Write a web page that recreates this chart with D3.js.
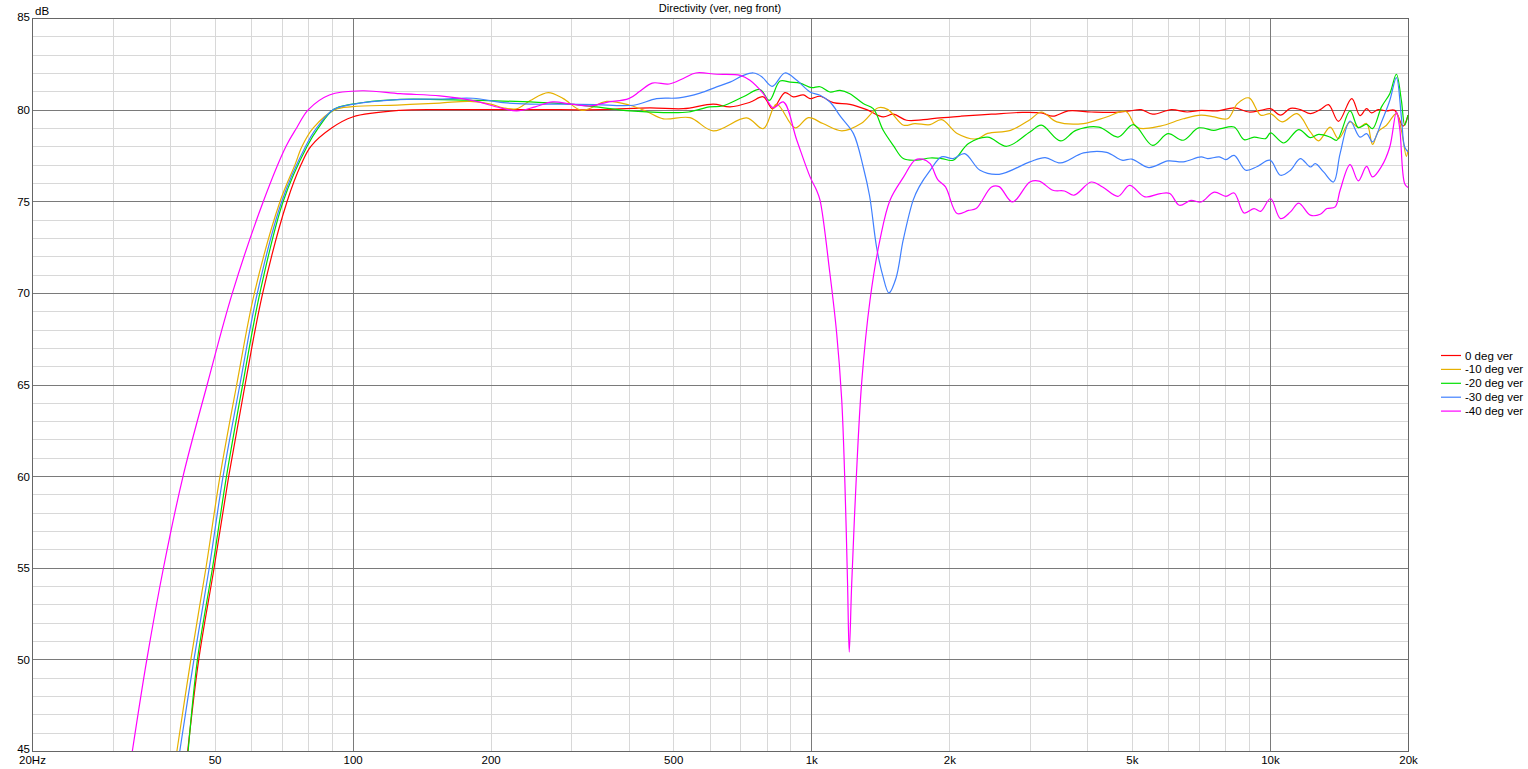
<!DOCTYPE html>
<html><head><meta charset="utf-8">
<script src="https://cdn.jsdelivr.net/npm/d3@7"></script>
<style>
body{margin:0;background:#fff}
svg{display:block}
text{font-family:"Liberation Sans",Arial,sans-serif;fill:#000}
</style>
</head><body>
<svg id="chart" width="1528" height="769"></svg>
<script>
const chartTitle = "Directivity (ver, neg front)";
const yUnit = "dB";
const seriesNames = ["0 deg ver","-10 deg ver","-20 deg ver","-30 deg ver","-40 deg ver"];
const seriesColors = ["#ff0000","#e6b000","#00e000","#4080ff","#ff00ff"];
const xTickValues = [20,50,100,200,500,1000,2000,5000,10000,20000];
const xTickLabels = ["20Hz","50","100","200","500","1k","2k","5k","10k","20k"];
const yTickValues = [45,50,55,60,65,70,75,80,85];

// [frequency Hz, level dB]
const deg0 = [[43.7,45],[46.2,50],[49.9,55],[53.7,60],[58.3,65],[63.7,70],[72,75],[77.2,77],[81.1,78],[90,79],[100,79.6],[127,79.96],[160,80],[250,80],[350,80],[445,80.1],[526,80.05],[611,80.3],[665,80.15],[735,80.4],[786,80.7],[824,80.05],[876,80.93],[914,80.7],[961,80.8],[994,80.6],[1045,80.73],[1117,80.38],[1214,80.29],[1321,80.0],[1435,79.6],[1509,79.75],[1614,79.42],[1754,79.45],[1908,79.55],[2119,79.64],[2472,79.75],[2884,79.85],[3174,79.82],[3363,79.64],[3633,79.93],[4077,79.87],[4577,79.85],[4943,79.93],[5240,80.0],[5548,79.75],[6100,80.0],[6600,79.87],[7078,79.96],[7689,79.93],[8356,80.1],[9005,79.87],[9546,79.96],[10033,80.05],[10546,79.7],[11086,80.07],[11652,80.0],[12248,79.78],[12874,80.0],[13419,80.27],[14107,79.36],[15077,80.6],[15718,79.67],[16245,80.05],[16655,79.82],[17222,80.0],[17953,79.93],[18715,79.96],[19506,79.1],[20000,79.7]];
const deg10 = [[41.4,45],[44.4,50],[47.9,55],[51.4,60],[55.9,65],[61.1,70],[69.5,75],[74.9,77],[77.6,78],[82.1,79],[91.6,80],[100,80.16],[125,80.25],[155,80.36],[180,80.45],[200,80.3],[213,80.1],[228,80.05],[244,80.5],[267,80.93],[288,80.6],[316,79.96],[358,80.45],[402,80.24],[438,79.9],[476,79.5],[544,79.56],[611,78.84],[723,79.55],[786,78.96],[840,80.3],[922,79.0],[986,79.56],[1060,79.24],[1166,78.84],[1284,79.24],[1400,80.1],[1470,80.0],[1590,79.15],[1682,79.24],[1816,79.18],[1924,79.45],[2080,78.7],[2288,78.4],[2424,78.7],[2720,78.87],[2997,79.45],[3174,79.87],[3430,79.33],[3923,79.24],[4404,79.6],[4850,79.9],[5137,79.02],[5767,79.1],[6471,79.5],[7078,79.7],[7562,79.6],[8084,79.5],[8497,80.33],[9005,80.64],[9546,79.7],[10033,79.78],[10634,79.33],[11461,79.78],[12248,78.78],[12766,78.3],[13530,79.05],[14107,78.42],[14952,79.33],[15586,79.02],[16245,79.24],[16740,78.1],[17222,78.8],[17953,79.15],[18867,79.78],[19346,78.87],[19834,77.45],[20000,77.8]];
const deg20 = [[43.8,45],[45.9,50],[49.5,55],[53.1,60],[57.6,65],[62.8,70],[70.6,75],[79.6,78],[84.2,79],[90.8,80],[100,80.3],[125,80.55],[155,80.55],[190,80.5],[244,80.42],[288,80.33],[340,80.15],[402,79.93],[476,79.84],[540,79.87],[600,80.15],[640,80.2],[711,80.7],[773,81.1],[810,80.5],[855,81.56],[900,81.5],[945,81.45],[1000,81.2],[1045,81.25],[1098,80.96],[1155,81.05],[1214,80.87],[1298,80.33],[1365,80.05],[1435,78.87],[1509,78.05],[1587,77.33],[1697,77.24],[1816,77.36],[1924,77.33],[2039,77.24],[2202,78.15],[2424,78.5],[2669,78.0],[2997,78.78],[3174,79.15],[3495,78.29],[3775,78.87],[4238,79.05],[4665,78.5],[5038,79.18],[5548,78.05],[5993,78.69],[6471,78.33],[6990,79.0],[7549,78.87],[7818,78.96],[8356,79.05],[8784,78.36],[9235,78.5],[9786,78.42],[10033,78.73],[10723,78.18],[11555,78.91],[12248,78.47],[12766,78.65],[13530,78.5],[13990,78.33],[14952,79.93],[15586,79.02],[16245,79.2],[16740,78.96],[17510,80.15],[18251,80.87],[18867,81.93],[19346,80.5],[19669,79.15],[20000,79.7]];
const deg30 = [[42.0,45],[45.1,50],[48.7,55],[52.2,60],[56.8,65],[62.0,70],[70.1,75],[79.0,78],[83.5,79],[90.8,80],[100,80.29],[125,80.55],[155,80.58],[183,80.62],[213,80.38],[244,80.3],[290,80.3],[340,80.27],[410,80.24],[460,80.6],[515,80.64],[572,80.9],[622,81.24],[665,81.5],[711,81.87],[748,82.0],[780,81.8],[822,81.27],[876,82.0],[930,81.6],[994,80.96],[1045,80.78],[1100,80.4],[1160,79.6],[1236,78.69],[1300,76.8],[1340,75.3],[1388,72.5],[1430,71.0],[1477,70.0],[1530,70.8],[1587,72.9],[1668,75.06],[1720,75.8],[1816,76.69],[1924,77.42],[2039,77.33],[2160,77.6],[2333,76.69],[2568,76.47],[2997,77.15],[3236,77.38],[3495,77.09],[3923,77.64],[4404,77.67],[4757,77.24],[5000,77.3],[5445,76.84],[5993,77.2],[6471,77.15],[7078,77.42],[7316,77.33],[7754,77.42],[8017,77.27],[8356,77.5],[8857,76.69],[9388,76.9],[10000,77.24],[10546,76.42],[11086,76.69],[11652,77.33],[12248,76.87],[12559,77.05],[13091,76.6],[13758,76.05],[14223,77.6],[14952,79.38],[15718,78.5],[16245,78.69],[16740,78.24],[17510,79.33],[18251,80.5],[18867,81.75],[19346,79.6],[19669,77.96],[20000,77.7]];
const deg40 = [[33.1,45],[35.6,50],[38.7,55],[42.7,60],[48.2,65],[54.7,70],[63.9,75],[71.6,78],[75.5,79],[80.1,80],[89,80.8],[105,81.03],[127,80.87],[155,80.75],[182,80.5],[210,80.1],[228,79.93],[250,80.15],[273,80.42],[300,80.3],[330,80.2],[358,80.4],[400,80.6],[423,81.0],[450,81.45],[490,81.4],[526,81.7],[560,82.0],[622,81.93],[700,81.87],[735,81.6],[786,80.87],[826,80.1],[869,80.42],[930,78.33],[994,76.33],[1027,75.6],[1045,75.06],[1098,71.07],[1136,67.8],[1165,64.2],[1184,59.6],[1200,54.1],[1210,50.4],[1225,54.1],[1252,59.6],[1288,65.1],[1343,69.6],[1412,72.9],[1485,75.06],[1590,76.33],[1682,77.24],[1748,77.3],[1816,77.05],[1887,76.18],[1962,75.78],[2080,74.33],[2202,74.5],[2288,74.6],[2472,75.78],[2568,75.8],[2747,74.96],[2997,76.05],[3140,76.1],[3363,75.6],[3565,75.56],[3740,75.33],[4077,76.05],[4317,75.78],[4665,75.27],[4943,75.87],[5339,75.24],[5767,75.42],[6050,75.42],[6348,74.78],[6726,75.05],[7078,74.96],[7562,75.5],[8017,75.27],[8356,75.45],[8784,74.36],[9235,74.6],[9546,74.45],[10033,75.15],[10546,74.05],[11086,74.42],[11556,74.9],[12248,74.24],[12874,74.29],[13310,74.6],[13875,74.69],[14223,75.6],[14952,77.0],[15586,76.11],[16245,76.9],[16740,76.33],[17510,76.9],[18251,77.96],[18867,79.87],[19187,78.96],[19669,75.96],[20000,75.75]];
const seriesData = [deg0, deg10, deg20, deg30, deg40];

const L = 32, R = 1408, T = 18, B = 751;
const svg = d3.select("#chart");
const x = d3.scaleLog().domain([20, 20000]).range([L, R]);
const y = d3.scaleLinear().domain([45, 85]).range([B, T]);

// grid
const minorX = [];
[10,100,1000,10000].forEach(d => { for (let k = 2; k <= 9; k++) { const v = d*k; if (v > 20 && v < 20000) minorX.push(v); } });
const majorX = [100, 1000, 10000];
const minorY = d3.range(46, 85).filter(v => v % 5 !== 0);
const majorY = [50,55,60,65,70,75,80];

const g = svg.append("g");
g.selectAll(".mx").data(minorX).enter().append("line")
  .attr("x1", d => Math.round(x(d)) + 0.5).attr("x2", d => Math.round(x(d)) + 0.5)
  .attr("y1", T).attr("y2", B).attr("stroke", "#d8d8d8").attr("stroke-width", 1);
g.selectAll(".my").data(minorY).enter().append("line")
  .attr("x1", L).attr("x2", R)
  .attr("y1", d => Math.round(y(d)) + 0.5).attr("y2", d => Math.round(y(d)) + 0.5)
  .attr("stroke", "#d8d8d8").attr("stroke-width", 1);
g.selectAll(".Mx").data(majorX).enter().append("line")
  .attr("x1", d => Math.round(x(d)) + 0.5).attr("x2", d => Math.round(x(d)) + 0.5)
  .attr("y1", T).attr("y2", B).attr("stroke", "#7a7a7a").attr("stroke-width", 1);
g.selectAll(".My").data(majorY).enter().append("line")
  .attr("x1", L).attr("x2", R)
  .attr("y1", d => Math.round(y(d)) + 0.5).attr("y2", d => Math.round(y(d)) + 0.5)
  .attr("stroke", "#7a7a7a").attr("stroke-width", 1);
g.append("rect").attr("x", L + 0.5).attr("y", T + 0.5).attr("width", R - L).attr("height", B - T)
  .attr("fill", "none").attr("stroke", "#666").attr("stroke-width", 1);

// clip
svg.append("clipPath").attr("id", "clip").append("rect")
  .attr("x", L).attr("y", T).attr("width", R - L + 1).attr("height", B - T + 1);

const line = d3.line().x(d => x(d[0])).y(d => y(d[1])).curve(d3.curveCatmullRom.alpha(0.5));
const lg = svg.append("g").attr("clip-path", "url(#clip)");
seriesData.forEach((s, i) => {
  lg.append("path").datum(s).attr("d", line).attr("fill", "none")
    .attr("stroke", seriesColors[i]).attr("stroke-width", 1.2);
});

// axes labels
const xAxis = d3.axisBottom(x).tickValues(xTickValues).tickFormat((d, i) => xTickLabels[i]).tickSize(0).tickPadding(0);
const xa = svg.append("g").attr("transform", `translate(0,${B})`).call(xAxis);
xa.select(".domain").remove();
xa.selectAll("text").attr("dy", null).attr("y", 13).style("font-size", "11.5px")
  .style("font-family", '"Liberation Sans",Arial,sans-serif').attr("fill", "#000");

const yAxis = d3.axisLeft(y).tickValues(yTickValues).tickSize(0).tickPadding(0);
const ya = svg.append("g").attr("transform", `translate(30,0)`).call(yAxis);
ya.select(".domain").remove();
ya.selectAll("text").attr("x", 0).attr("dy", "0.34em").style("font-size", "11.5px")
  .style("font-family", '"Liberation Sans",Arial,sans-serif').attr("fill", "#000");
ya.selectAll(".tick").filter(d => d === 85).select("text").attr("dy", "0.2em");
ya.selectAll(".tick").filter(d => d === 45).select("text").attr("dy", "0.1em");

svg.append("text").attr("x", 35).attr("y", 15).style("font-size", "11.5px").text(yUnit);
svg.append("text").attr("x", 720).attr("y", 12).attr("text-anchor", "middle").style("font-size", "11px").text(chartTitle);

// legend
const leg = svg.append("g");
seriesNames.forEach((n, i) => {
  const yy = 355.5 + i * 13.9;
  leg.append("line").attr("x1", 1441).attr("x2", 1461).attr("y1", yy).attr("y2", yy)
    .attr("stroke", seriesColors[i]).attr("stroke-width", 1.2);
  leg.append("text").attr("x", 1465).attr("y", yy).attr("dy", "0.35em").style("font-size", "11.5px").text(n);
});
</script>
</body></html>
